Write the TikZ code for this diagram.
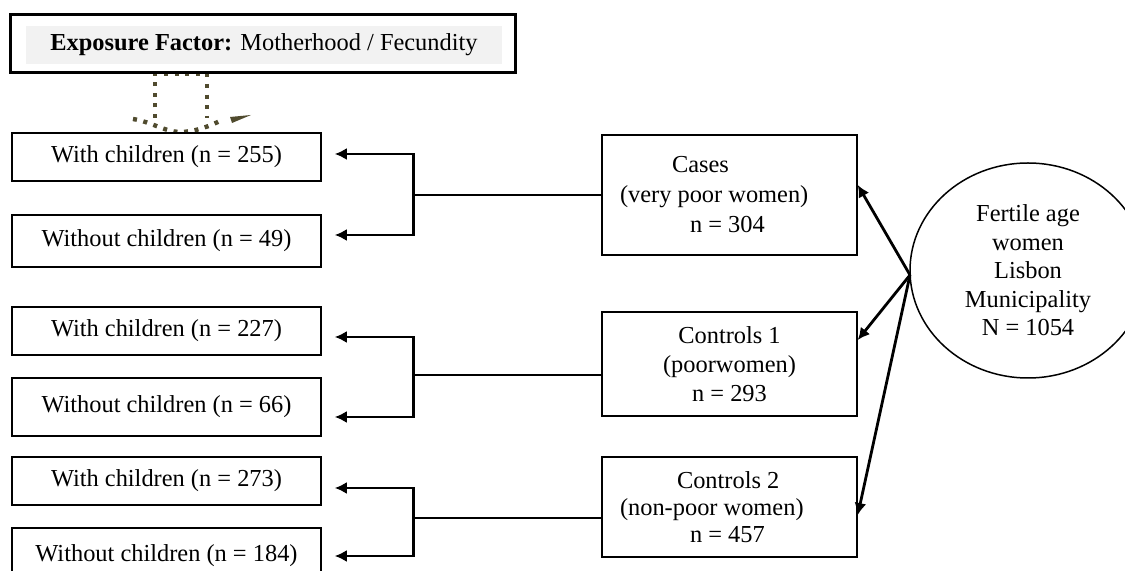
\documentclass[tikz,border=0pt]{standalone}
\usepackage{fontspec}
\setmainfont{Liberation Serif}
\usetikzlibrary{arrows.meta,shapes.geometric}
\definecolor{dotc}{RGB}{80,75,46}
\definecolor{paleg}{RGB}{242,242,242}
\tikzset{
  leftbox/.style={draw=black,line width=0.75pt,fill=white,rectangle,minimum width=154.5pt,inner sep=0pt,font=\fontsize{12.2}{15}\selectfont},
  rightbox/.style={draw=black,line width=0.75pt,fill=white,rectangle,minimum width=127.5pt,inner sep=0pt},
  conn/.style={line width=1.4pt,-{Latex[length=6pt,width=6pt]}},
  feed/.style={line width=1.4pt},
  dotline/.style={draw=dotc,line width=2.2pt,dash pattern=on 2pt off 3.3pt}
}
\begin{document}
\begin{tikzpicture}[x=0.5pt,y=-0.5pt]
\clip (0,0) rectangle (1125,571);
\fill[white] (0,0) rectangle (1125,571);
% dotted block arrow
\draw[dotline] (155,118) -- (155,74) -- (207,74) -- (207,118);
\draw[dotline] (133,119) .. controls (152,122) and (165,132) .. (180,132) .. controls (195,132) and (210,126) .. (222,120);
\fill[dotc] (230,117) -- (251,115) -- (232,123) -- cycle;
% top box
\node[draw=black,line width=1.5pt,fill=white,minimum width=252.5pt,minimum height=29pt,inner sep=0pt] (expo) at (262.5,44) {};
\node[fill=paleg,minimum width=238pt,minimum height=19pt,inner sep=0pt,font=\fontsize{12.2}{15}\selectfont] (expot) at (264,45) {\textbf{Exposure Factor:} Motherhood / Fecundity};
% left boxes
\node[leftbox,minimum height=24pt] (wc1) at (166.5,157) {With children (n = 255)};
\node[leftbox,minimum height=26pt] (wo1) at (166.5,241) {Without children (n = 49)};
\node[leftbox,minimum height=24pt] (wc2) at (166.5,331) {With children (n = 227)};
\node[leftbox,minimum height=29pt] (wo2) at (166.5,407) {Without children (n = 66)};
\node[leftbox,minimum height=24pt] (wc3) at (166.5,481) {With children (n = 273)};
\node[leftbox,minimum height=28pt] (wo3) at (166.5,556) {Without children (n = 184)};
% right boxes
\node[rightbox,minimum height=60pt,text width=109.5pt,inner xsep=9pt,align=flush left,font=\fontsize{12.2}{15}\selectfont] (cases) at (729.5,195)
  {\mbox{\hspace{26pt}Cases}\\\mbox{(very poor women)}\\\mbox{\hspace{35pt}n = 304}};
\node[rightbox,minimum height=52pt,align=flush center,font=\fontsize{12.2}{14.5}\selectfont] (ctrl1) at (729.5,364)
  {Controls 1\\(poorwomen)\\n = 293};
\node[rightbox,minimum height=50pt,text width=109.5pt,inner xsep=9pt,align=flush left,font=\fontsize{12.2}{13.5}\selectfont] (ctrl2) at (729.5,507)
  {\mbox{\hspace{28.5pt}Controls 2}\\\mbox{(non-poor women)}\\\mbox{\hspace{35pt}n = 457}};
% population ellipse
\node[ellipse,draw=black,line width=0.75pt,minimum width=118pt,minimum height=107.5pt,inner sep=0pt,align=flush center,font=\fontsize{12.2}{14.25}\selectfont] (fert) at (1028,270.5)
  {Fertile age\\women\\Lisbon\\Municipality\\N = 1054};
\coordinate (src) at (910,275);
% arrows from population
\draw[conn] (src) -- ([yshift=5pt]cases.east);
\draw[conn] (src) -- ([yshift=12pt]ctrl1.east);
\draw[conn] (src) -- ([yshift=-4pt]ctrl2.east);
% brackets
\draw[feed] (cases.west) -- ++(-188,0) coordinate (j1);
\draw[conn] (j1) |- ([xshift=6.5pt,yshift=1.5pt]wc1.east);
\draw[conn] (j1) |- ([xshift=6.5pt,yshift=3pt]wo1.east);
\draw[feed] ([yshift=-5.5pt]ctrl1.west) -- ++(-188,0) coordinate (j2);
\draw[conn] (j2) |- ([xshift=6.5pt,yshift=-3pt]wc2.east);
\draw[conn] (j2) |- ([xshift=6.5pt,yshift=-5pt]wo2.east);
\draw[feed] ([yshift=-5.5pt]ctrl2.west) -- ++(-188,0) coordinate (j3);
\draw[conn] (j3) |- ([xshift=6.5pt,yshift=-3.5pt]wc3.east);
\draw[conn] (j3) |- ([xshift=6.5pt]wo3.east);
\end{tikzpicture}
\end{document}
